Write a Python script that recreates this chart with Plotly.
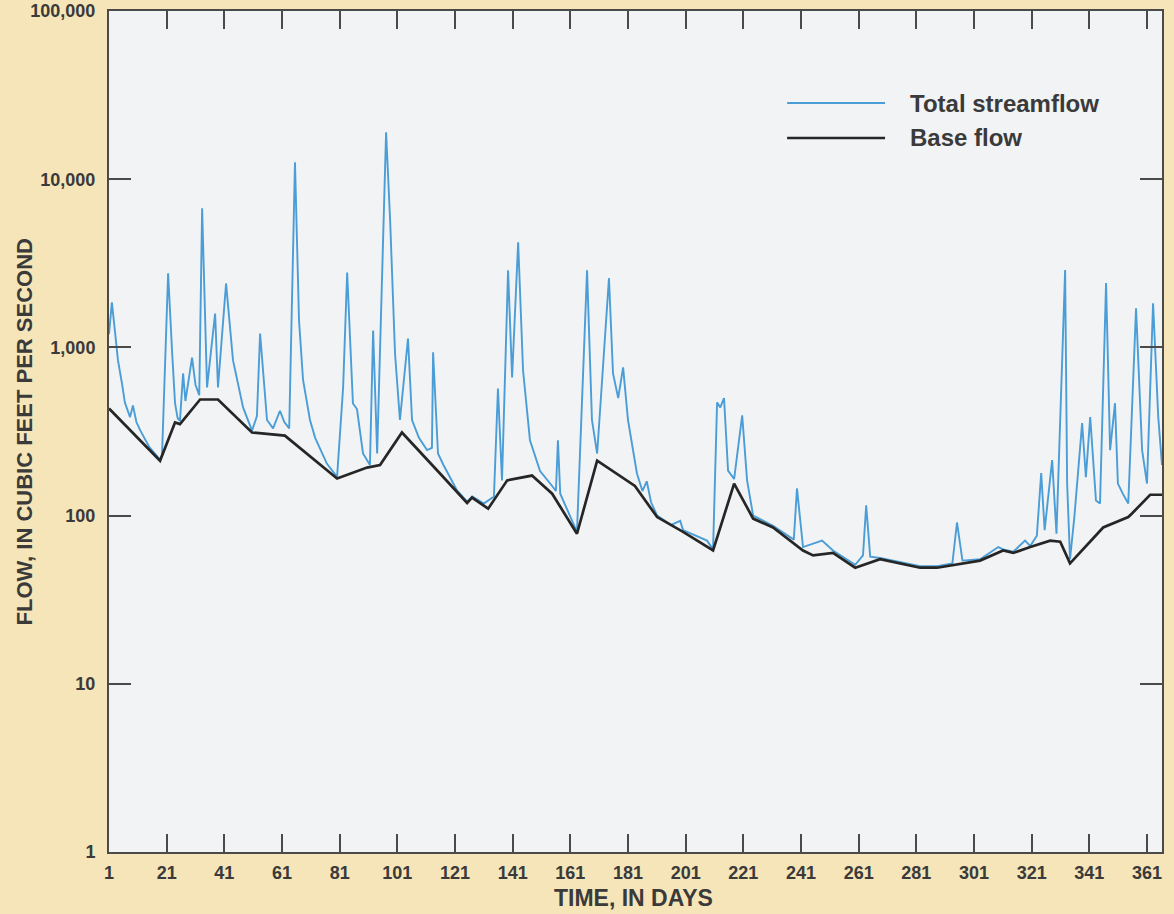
import plotly.graph_objects as go

# ---- data (day of year, cubic feet per second) ----
flow_days = [1, 2, 3.1, 4.1, 5.5, 6.5, 8.3, 9.3, 10.5, 11.8, 15, 18.7, 19.4, 21.5, 22.9, 23.9,
             24.8, 25.6, 26.7, 27.5, 29.8, 31.0, 32.3, 33.3, 35.0, 37.8, 38.8, 41.6, 44.0, 47.5,
             50.6, 52.3, 53.4, 55.8, 57.9, 60.3, 61.8, 63.5, 65.5, 66.2, 66.9, 68.3, 70.7, 72.5,
             76.6, 80.1, 82.2, 83.6, 85.6, 87.0, 89.1, 91.5, 92.6, 94.0, 97.1, 98.5, 100.2, 101.9,
             104.7, 106.1, 108.5, 111.3, 113.0, 113.4, 115.1, 117.0, 121.7, 125.2, 127.0, 131.0,
             134.5, 135.9, 137.3, 139.4, 140.8, 142.9, 144.6, 147.0, 150.5, 154.7, 156.0, 156.7,
             157.5, 163.3, 166.8, 168.5, 170.3, 171.3, 174.4, 175.8, 177.6, 179.3, 181.0, 184.1,
             186.0, 187.5, 189.0, 191.1, 196.0, 199.1, 200.1, 208.4, 210.5, 211.9, 213.0, 214.3,
             215.7, 217.8, 220.6, 222.3, 224.4, 231.3, 238.5, 239.6, 241.7, 248.3, 252.1, 259.8,
             262.5, 263.6, 265.0, 268.4, 275.4, 282.3, 288.2, 293.5, 295.1, 297.0, 303.1, 309.4,
             311.1, 314.6, 318.7, 320.5, 322.8, 324.3, 325.5, 328.1, 329.6, 332.6, 333.3, 334.3,
             335.8, 338.5, 339.8, 341.3, 343.3, 344.7, 346.8, 348.2, 349.9, 350.9, 352.6, 354.5,
             357.2, 359.3, 361.0, 363.1, 364.9, 366.2]
flow_cfs = [1200, 1850, 1230, 840, 610, 470, 385, 452, 360, 322, 255, 215, 230, 2760, 930, 466,
            380, 365, 700, 480, 870, 600, 520, 6710, 578, 1590, 578, 2400, 840, 440,
            320, 390, 1210, 370, 330, 420, 360, 330, 12600, 3600, 1450, 640, 370, 290,
            203, 170, 580, 2790, 464, 430, 234, 200, 1260, 234, 19000, 5700, 920, 370,
            1130, 370, 290, 245, 253, 935, 234, 200, 141, 121, 130, 118,
            130, 570, 162, 2870, 662, 4220, 730, 280, 184, 150, 140, 280,
            135, 80, 2870, 370, 234, 420, 2580, 700, 500, 760, 370, 178,
            140, 160, 120, 100, 88, 93, 82, 71, 63, 471, 440, 500,
            185, 165, 394, 162, 100, 87, 72, 145, 65, 71, 62, 51,
            58, 115, 57, 56, 53, 50, 50, 52, 91, 54, 55, 65,
            63, 61, 71, 66, 76, 179, 82, 214, 78, 2880, 155, 55,
            98, 355, 169, 385, 123, 118, 2410, 245, 466, 155, 135, 118,
            1710, 245, 155, 1830, 385, 200]

base_days = [1, 11.8, 18.7, 23.9, 25.6, 32.6, 38.8, 50.6, 62.0, 80.1, 90.5, 95.0, 102.6, 115.8,
             125.2, 126.9, 132.5, 139.1, 147.7, 154.7, 163.3, 170.3, 183.4, 191.1, 200.1, 210.5,
             217.8, 224.4, 231.3, 241.7, 245.2, 252.1, 259.8, 268.4, 275.4, 282.3, 288.2, 303.1,
             311.1, 314.6, 320.5, 327.4, 330.9, 334.3, 345.8, 354.5, 355.8, 362.1, 366.2]
base_cfs = [433, 279, 212, 358, 350, 490, 490, 312, 299, 166, 193, 200, 312, 178,
            119, 128, 110, 162, 173, 135, 78, 212, 150, 98, 80, 62,
            155, 96, 85, 62, 58, 60, 49, 55, 52, 49, 49, 54,
            62, 60, 65, 71, 70, 52, 85, 98, 103, 133, 133]

x_tick_vals = [1, 21, 41, 61, 81, 101, 121, 141, 161, 181, 201, 221, 241, 261, 281, 301, 321, 341, 361]
y_tick_vals = [1, 10, 100, 1000, 10000, 100000]
y_tick_text = ["1", "10", "100", "1,000", "10,000", "100,000"]

series_names = ["Total streamflow", "Base flow"]

# ---- styling ----
BLUE = "#4a9dd6"
DARK = "#262626"
AXIS = "#4a4a4a"
TEXT = "#3a3a3a"
FONT = "Liberation Sans, Arial, sans-serif"
PAPER = "#f5e5b8"

fig = go.Figure()
fig.add_trace(go.Scatter(x=flow_days, y=flow_cfs, mode="lines", name=series_names[0],
                         line=dict(color=BLUE, width=1.9), showlegend=False))
fig.add_trace(go.Scatter(x=base_days, y=base_cfs, mode="lines", name=series_names[1],
                         line=dict(color=DARK, width=2.7), showlegend=False))

axis_common = dict(ticks="inside", tickwidth=2, tickcolor=AXIS, showline=True, linecolor=AXIS,
                   linewidth=2, mirror="ticks", showgrid=False, zeroline=False, automargin=False,
                   tickfont=dict(family=FONT, size=18, color=TEXT, weight="bold"))

fig.update_xaxes(range=[1, 366.2], tickmode="array", tickvals=x_tick_vals, ticklen=18,
                 ticklabelstandoff=3, **axis_common)
fig.update_yaxes(type="log", range=[0, 5], tickmode="array", tickvals=y_tick_vals,
                 ticktext=y_tick_text, ticklen=22, ticklabelstandoff=8, **axis_common)

# legend drawn as in the original (long line samples)
legend_y = [0.8906, 0.849]
legend_colors = [BLUE, DARK]
legend_widths = [1.9, 2.7]
shapes = []
annotations = []
for name, yy, col, w in zip(series_names, legend_y, legend_colors, legend_widths):
    shapes.append(dict(type="line", xref="paper", yref="paper", x0=0.644, x1=0.737,
                       y0=yy, y1=yy, line=dict(color=col, width=w)))
    annotations.append(dict(text=name, xref="paper", yref="paper", x=0.759, y=yy,
                            xanchor="left", yanchor="middle", showarrow=False,
                            font=dict(family=FONT, size=24, color=TEXT, weight="bold")))

annotations.append(dict(text="TIME, IN DAYS", xref="paper", yref="paper", x=0.4985, y=-0.0547,
                        xanchor="center", yanchor="middle", showarrow=False,
                        font=dict(family=FONT, size=23, color=TEXT, weight="bold")))
annotations.append(dict(text="FLOW, IN CUBIC FEET PER SECOND", xref="paper", yref="paper",
                        x=-0.0798, y=0.5, xanchor="center", yanchor="middle", textangle=-90,
                        showarrow=False,
                        font=dict(family=FONT, size=22, color=TEXT, weight="bold")))

fig.update_layout(
    width=1174, height=914,
    margin=dict(l=109, r=12, t=11, b=62, autoexpand=False),
    paper_bgcolor=PAPER,
    plot_bgcolor="#f1f3f4",
    shapes=shapes,
    annotations=annotations,
    showlegend=False,
)

fig.write_html(
    "out.html",
    config={"displayModeBar": False},
    post_script="document.body.style.margin='0';document.body.style.overflow='hidden';"
                "document.body.style.background='" + PAPER + "';",
)
